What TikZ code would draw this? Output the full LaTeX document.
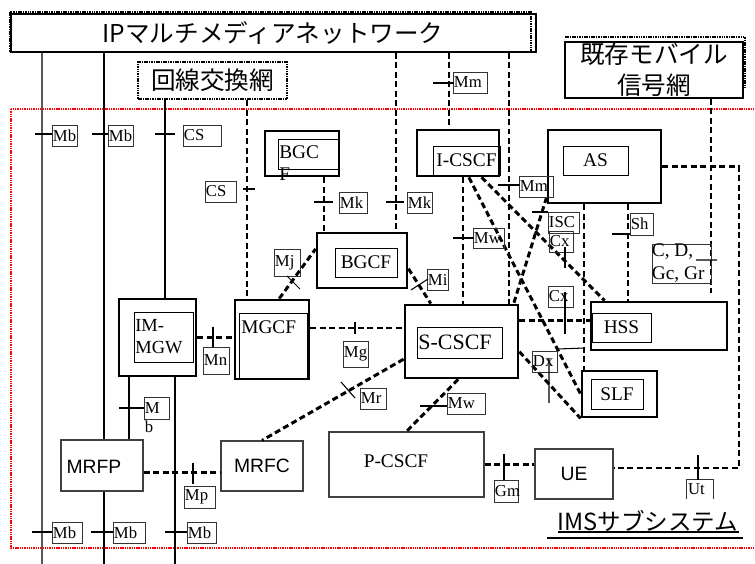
\documentclass[tikz,border=0pt]{standalone}
\usepackage{fontspec}
\setmainfont{Liberation Serif}
\newfontfamily\jpfont{Noto Sans CJK JP}
\newfontfamily\arialfont{Liberation Sans}
\usetikzlibrary{fit}

\begin{document}
\begin{tikzpicture}[x=0.02cm,y=-0.02cm,
    box/.style={draw,line width=1.6pt,inner sep=0pt},
    ibox/.style={draw,line width=0.5pt,inner sep=0pt},
    pbox/.style={draw=black!75,line width=0.7pt,inner sep=0pt},
    lbox/.style={draw=black!80,line width=0.5pt,inner sep=0pt},
    ltx/.style={anchor=west,inner sep=0.6pt,font=\fontsize{9.5}{11}\selectfont},
    tms/.style={inner sep=0pt,font=\fontsize{11}{13}\selectfont},
    ari/.style={inner sep=0pt,font=\arialfont\fontsize{11}{13}\selectfont},
    jp/.style={inner sep=0pt,font=\jpfont\fontsize{14}{17.6}\selectfont},
    dotfr/.style={line width=1.6pt,dash pattern=on 0.9pt off 0.45pt},
    ifc/.style={line width=1.7pt,dash pattern=on 3.4pt off 2pt},
    tk/.style={line width=0.6pt},
    imsfr/.style={red,line width=1.3pt,dash pattern=on 0.8pt off 0.5pt}]
  \useasboundingbox (0,0) rectangle (755,564);
  \draw[imsfr] (11,109) rectangle (775,548);

  % outside networks
  \draw[dotfr] (10,12) rectangle (531,52);
  \node[draw,line width=0.7pt,inner sep=0pt,fit={(11,14) (536,52)}] (ipn) {};
  \node[jp] at (273,33) {IPマルチメディアネットワーク};
  \node[draw,dotfr,inner sep=0pt,fit={(138,62) (287,99)}] (csn) {};
  \node[jp] at (csn) {回線交換網};
  \draw[dotfr] (565,37) -| (745,88);
  \node[draw,line width=0.7pt,inner sep=0pt,fit={(565,42) (743,98)}] (mob) {};
  \node[jp,align=center] at (654,70) {既存モバイル\\信号網};
  \node[jp,font=\jpfont\fontsize{13.4}{16}\selectfont] (imst) at (648,521) {IMSサブシステム};
  \draw[line width=1.2pt] (558,532) -- (739,532);
  \draw[line width=0.8pt] (547,538) -- (743,538);

  % functional entities
  \node[box,fit={(119,299) (196,376)}] (imgw) {};
  \node[ibox,fit={(134,312) (193,362)}] (imgwi) {};
  \node[tms,font=\fontsize{10.5}{12.5}\selectfont,align=left,anchor=north west] at (135,319) {IM-\\MGW};
  \node[box,fit={(235,300) (309,379)}] (mgcf) {};
  \node[ibox,fit={(239,313) (307,378)}] (mgcfi) {};
  \node[tms,anchor=north west] at (241,320) {MGCF};
  \node[box,fit={(265,131) (339,176)}] (bgc) {};
  \node[ibox,fit={(278,139) (338,169)}] (bgci) {};
  \node[tms,align=left,anchor=north west] at (279,145) {BGC\\F};
  \node[box,fit={(317,233) (407,288)}] (bgcf) {};
  \node[ibox,fit={(335,248) (397,277)},label={[tms]center:BGCF}] (bgcfi) {};
  \node[box,fit={(417,130) (499,176)}] (icscf) {};
  \node[ibox,fit={(433,146) (500,175)},label={[tms]center:I-CSCF}] (icscfi) {};
  \node[box,fit={(548,130) (661,203)}] (as) {};
  \node[ibox,fit={(563,146) (628,175)},label={[tms]center:AS}] (asi) {};
  \node[box,fit={(405,305) (518,378)}] (scscf) {};
  \node[ibox,fit={(417,327) (502,358)}] (scscfi) {};
  \node[tms,font=\fontsize{12.5}{14}\selectfont] at (455,342) {S-CSCF};
  \node[box,fit={(591,302) (727,350)}] (hss) {};
  \node[ibox,fit={(592,313) (651,342)},label={[tms]center:HSS}] (hssi) {};
  \node[box,fit={(582,371) (657,417)}] (slf) {};
  \node[ibox,fit={(591,379) (643,409)},label={[tms]center:SLF}] (slfi) {};
  \node[pbox,fit={(329,432) (484,497)}] (pcscf) {};
  \node[tms] at (396,461) {P-CSCF};
  \node[pbox,fit={(61,440) (143,491)}] (mrfp) {};
  \node[ari] at (94,467) {MRFP};
  \node[pbox,fit={(221,441) (303,491)},label={[ari]center:MRFC}] (mrfc) {};
  \node[pbox,fit={(535,449) (613,499)},label={[ari]center:UE}] (ue) {};

  % line positions
  \coordinate (xa) at (42,564);
  \coordinate (xb) at (104,564);
  \coordinate (xc) at (165,0);
  \coordinate (xd) at (129,0);
  \coordinate (xe) at (175,564);
  \coordinate (xf) at (247,0);
  \coordinate (xg) at (324,0);
  \coordinate (xh) at (396,0);
  \coordinate (xi) at (449,0);
  \coordinate (xj) at (509,0);
  \coordinate (xk) at (463,0);
  \coordinate (xl) at (584,0);
  \coordinate (xm) at (628,0);
  \coordinate (xn) at (711,293);
  \coordinate (rc) at (739,468);
  \coordinate (mgy) at (0,328);

  % bearer lines
  \draw[line width=1pt,black!65] (ipn.south -| xa) -- (xa);
  \draw[tk] (ipn.south -| xb) -- (mrfp.north -| xb) (mrfp.south -| xb) -- (xb);
  \draw[tk] (csn.south -| xc) -- (imgw.north -| xc);
  \draw[tk] (imgw.south -| xd) -- (mrfp.north -| xd);
  \draw[tk] (imgw.south -| xe) -- (xe);

  % signalling
  \draw[ifc] (csn.south -| xf) -- (mgcf.north -| xf);
  \draw[ifc] (bgc.south -| xg) -- (bgcf.north -| xg);
  \draw[ifc] (ipn.south -| xh) -- (bgcf.north -| xh);
  \draw[ifc] (ipn.south -| xi) -- (icscf.north -| xi);
  \draw[ifc] (ipn.south -| xj) -- (scscf.north -| xj);
  \draw[ifc] (icscf.south -| xk) -- (scscf.north -| xk);
  \draw[ifc] (as.south -| xl) -- (slf.north -| xl);
  \draw[ifc] (as.south -| xm) -- (hss.north -| xm);
  \draw[ifc] (mob.south -| xn) -- (xn);
  \draw[ifc] (as.east) -| (rc) -- (rc -| ue.east);
  \draw[ifc] (imgw.east) -- (imgw.east -| mgcf.west);
  \draw[ifc] (mgcf.east |- mgy) -- (scscf.west |- mgy);
  \draw[ifc] (mgcf.80) -- (bgcf.166);
  \draw[ifc] (bgcf.-10) -- (scscf.129);
  \draw[ifc] (scscf.197) -- (mrfc.north);
  \draw[ifc] (scscf.265) -- (pcscf.north);
  \draw[ifc] (mrfp.-10) -- (mrfp.-10 -| mrfc.west);
  \draw[ifc] (pcscf.east) -- (pcscf.east -| ue.west);
  \draw[ifc] (scscf.20) -- (scscf.20 -| hss.west);
  \draw[ifc] (as.208) -- (scscf.36);
  \draw[ifc] (icscf.-66) -- (slf.west);
  \draw[ifc] (icscf.-46) -- (hss.155);
  \draw[ifc] (scscf.-10) -- (slf.south west);

  % reference point labels
  \node[lbox,fit={(52,125) (77,146)},label={[ltx]west:Mb}] (mb1) {};
  \node[lbox,fit={(108,125) (133,146)},label={[ltx]west:Mb}] (mb2) {};
  \node[lbox,fit={(183,125) (221,146)},label={[ltx]west:CS}] (cs1) {};
  \node[lbox,fit={(205,181) (236,202)},label={[ltx]west:CS}] (cs2) {};
  \node[lbox,fit={(339,192) (367,213)},label={[ltx]west:Mk}] (mk1) {};
  \node[lbox,fit={(407,192) (432,213)},label={[ltx]west:Mk}] (mk2) {};
  \node[lbox,fit={(453,72) (487,93)},label={[ltx]west:Mm}] (mm1) {};
  \node[lbox,fit={(519,176) (553,197)},label={[ltx]west:Mm}] (mm2) {};
  \node[lbox,fit={(473,228) (504,248)},label={[ltx]west:Mw}] (mw1) {};
  \node[lbox,fit={(548,212) (579,233)},label={[ltx]west:ISC}] (isc) {};
  \node[lbox,fit={(549,231) (573,252)},label={[ltx]west:Cx}] (cx1) {};
  \node[lbox,fit={(630,213) (653,235)},label={[ltx]west:Sh}] (sh) {};
  \node[lbox,fit={(652,244) (711,283)}] (cdg) {};
  \node[tms,align=left,anchor=west] at (cdg.west) {C, D,\\Gc, Gr};
  \node[lbox,fit={(274,249) (300,276)},label={[ltx]west:Mj}] (mj) {};
  \node[lbox,fit={(427,269) (448,290)},label={[ltx]west:Mi}] (mi) {};
  \node[lbox,fit={(203,347) (229,374)},label={[ltx]west:Mn}] (mn) {};
  \node[lbox,fit={(343,341) (368,367)},label={[ltx]west:Mg}] (mg) {};
  \node[lbox,fit={(548,286) (573,307)},label={[ltx]west:Cx}] (cx2) {};
  \node[lbox,fit={(532,351) (557,372)},label={[ltx]west:Dx}] (dx) {};
  \node[lbox,fit={(360,388) (386,409)},label={[ltx]west:Mr}] (mr) {};
  \node[lbox,fit={(447,393) (485,414)},label={[ltx]west:Mw}] (mw2) {};
  \node[lbox,fit={(144,397) (169,419)},label={[ltx]west:M}] (mb6) {};
  \node[ltx,anchor=north west] at (mb6.south west) {b};
  \node[lbox,fit={(184,486) (215,508)},label={[ltx]west:Mp}] (mp) {};
  \node[lbox,fit={(494,480) (518,502)},label={[ltx]west:Gm}] (gm) {};
  \node[inner sep=0pt,fit={(687,480) (713,499)},label={[ltx]west:Ut}] (ut) {};
  \draw[lbox] (ut.south west) |- (ut.north east) -- (ut.south east);
  \node[lbox,fit={(52,522) (82,543)},label={[ltx]west:Mb}] (mb3) {};
  \node[lbox,fit={(113,522) (145,543)},label={[ltx]west:Mb}] (mb4) {};
  \node[lbox,fit={(187,522) (216,543)},label={[ltx]west:Mb}] (mb5) {};

  % ticks
  \draw[tk] (35,134) -- (52,134) (92,134) -- (108,134) (155,134) -- (175,134);
  \draw[tk] (243,189) -- (255,189) (314,202) -- (333,202) (386,202) -- (404,202);
  \draw[tk] (433,83) -- (454,83) (498,185) -- (520,185) (453,238) -- (474,238);
  \draw[tk] (532,212) -- (548,212) (565,247) -- (565,268) (612,234) -- (630,234);
  \draw[tk] (696,260) -- (717,260) (287,276) -- (300,289) (411,290) -- (428,279);
  \draw[tk] (213,327) -- (213,347) (355,322) -- (355,334) (565,292) -- (565,334);
  \draw[tk] (558,349) -- (585,348) (549,358) -- (549,403) (341,382) -- (355,398);
  \draw[tk] (420,406) -- (447,406) (119,408) -- (144,408) (193,463) -- (193,484);
  \draw[tk] (504,454) -- (504,480) (698,455) -- (698,480);
  \draw[tk] (32,532) -- (52,532) (91,532) -- (113,532) (165,532) -- (187,532);
\end{tikzpicture}
\end{document}
